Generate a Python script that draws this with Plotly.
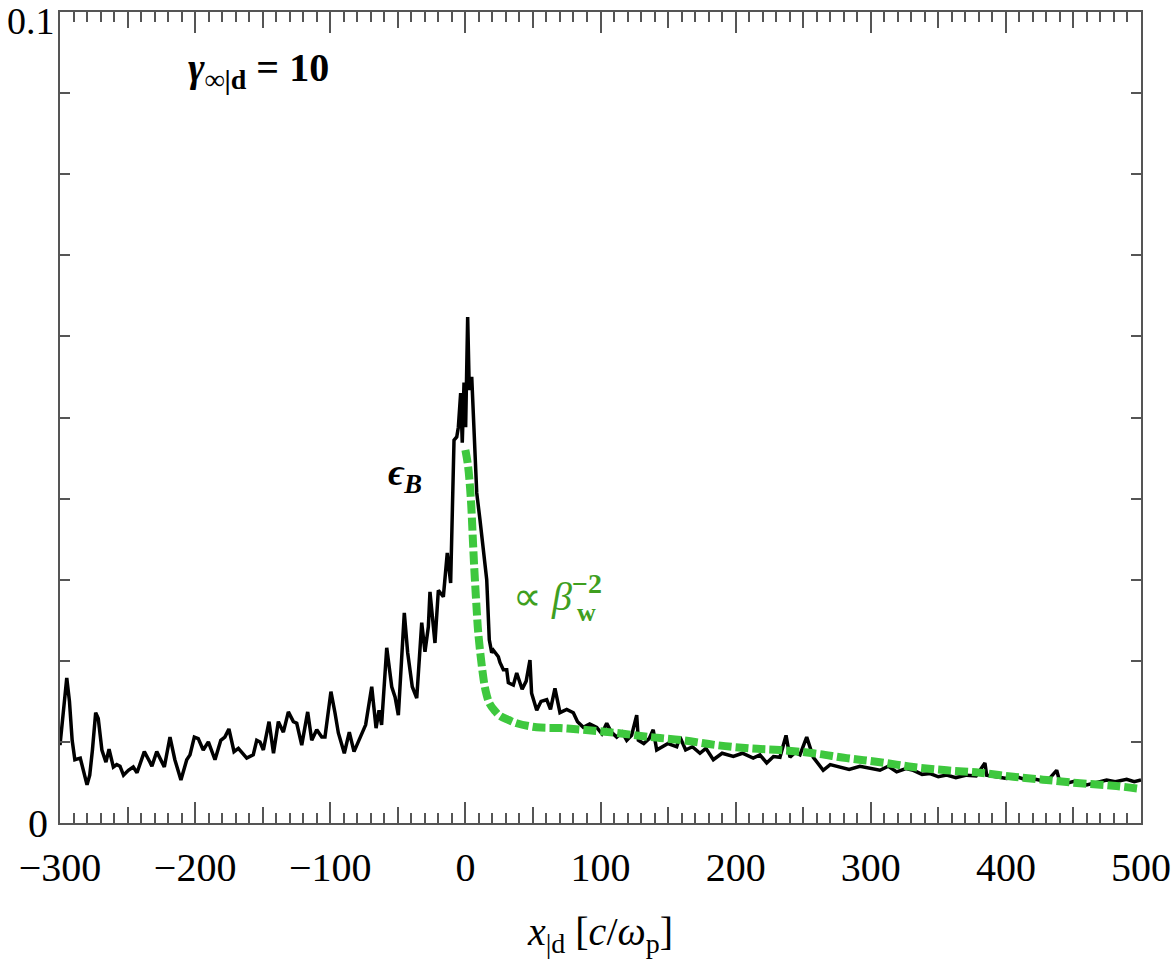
import plotly.graph_objects as go

# ---- data ----
eps_x = [-300, -297, -295, -293, -291, -289, -285, -280, -278, -276, -273.6, -271.7, -269, -266, -263.7,
         -260.5, -258, -255.6, -253, -249.4, -245.8, -243, -237.6, -233.4, -232, -228.4, -222.8, -218.6,
         -215, -210.5, -206.2, -203.8, -200.6, -197.7, -194, -190.2, -187.7, -185.3, -181, -178, -175,
         -171.2, -168, -164.4, -161.8, -157, -154.4, -152, -149.5, -145.3, -142, -138.4, -134.7, -131,
         -127.3, -124.8, -121.1, -116.7, -113.7, -110, -106.3, -103.9, -99.5, -96.5, -94, -89.6, -85.9,
         -82.4, -78, -73.8, -69.3, -66.1, -63.9, -62, -58.2, -54.5, -52, -49.6, -45.2, -42.7, -39.3, -36,
         -32.3, -29.9, -27.4, -26.2, -22.5, -20, -16.3, -13.4, -10.9, -8.4, -6.4, -5.2, -3.5, -2.3, -1,
         0.2, 1.7, 2.9, 4.7, 6.4, 8.4, 10.8, 13.3, 15.8, 17.7, 19.5, 20.7, 24.4, 25.6, 28.1, 30.6, 31.8,
         35.5, 38, 42, 45, 47.8, 49, 52.8, 56, 60.2, 63, 66.3, 70, 75, 79.9, 83, 87.3, 92, 97.2, 101,
         104.6, 108, 112, 116, 119.4, 123, 126.8, 128, 132, 136, 139, 141.6, 144, 150, 156.4, 158.8, 163,
         168, 173.6, 178, 183.5, 190, 198.3, 205, 213, 218, 223, 228, 232.8, 237.3, 240.2, 244, 247.6,
         252.6, 257.5, 261, 264.8, 270, 277.2, 284, 292, 299, 306.8, 313, 319.2, 326, 331.5, 338, 343.9,
         350, 356.2, 363, 371, 378, 384.5, 385.8, 392, 400.6, 408, 415.4, 422, 430.2, 437.6, 440, 445,
         452, 459.8, 467, 474.6, 481, 489.4, 495, 500]
eps_y = [0.0096, 0.0140, 0.0179, 0.0150, 0.0102, 0.0078, 0.0080, 0.0047, 0.0059, 0.0090, 0.0136, 0.0129,
         0.0090, 0.0075, 0.0091, 0.0069, 0.0072, 0.0070, 0.0059, 0.0065, 0.0069, 0.0062, 0.0088, 0.0075,
         0.0070, 0.0088, 0.0069, 0.0106, 0.0078, 0.0053, 0.0078, 0.0084, 0.0106, 0.0104, 0.0090, 0.0100,
         0.0090, 0.0078, 0.0102, 0.0106, 0.0116, 0.0088, 0.0092, 0.0084, 0.0080, 0.0084, 0.0102, 0.0100,
         0.0090, 0.0125, 0.0086, 0.0125, 0.0112, 0.0137, 0.0125, 0.0123, 0.0096, 0.0137, 0.0102, 0.0115,
         0.0106, 0.0106, 0.0162, 0.0136, 0.0111, 0.0086, 0.0112, 0.0088, 0.0105, 0.0121, 0.0168, 0.0117,
         0.0139, 0.0121, 0.0216, 0.0168, 0.0155, 0.0133, 0.0259, 0.0210, 0.0168, 0.0154, 0.0247, 0.0211,
         0.0242, 0.0285, 0.0222, 0.0287, 0.0279, 0.0333, 0.0296, 0.0472, 0.0476, 0.0488, 0.0530, 0.0469,
         0.0543, 0.0488, 0.0624, 0.0534, 0.0550, 0.0472, 0.0407, 0.0374, 0.0333, 0.0300, 0.0226, 0.0210,
         0.0213, 0.0205, 0.0198, 0.0189, 0.0189, 0.0173, 0.0170, 0.0185, 0.0165, 0.0175, 0.0201, 0.0160,
         0.0139, 0.0150, 0.0152, 0.0140, 0.0166, 0.0136, 0.0140, 0.0136, 0.0125, 0.0118, 0.0122, 0.0118,
         0.0110, 0.0123, 0.0112, 0.0106, 0.0112, 0.0102, 0.0108, 0.0133, 0.0102, 0.0098, 0.0104, 0.0115,
         0.0090, 0.0092, 0.0098, 0.0094, 0.0106, 0.0090, 0.0094, 0.0086, 0.0092, 0.0078, 0.0086, 0.0082,
         0.0086, 0.0080, 0.0084, 0.0074, 0.0082, 0.0081, 0.0108, 0.0081, 0.0087, 0.0084, 0.0106, 0.0081,
         0.0074, 0.0065, 0.0072, 0.0069, 0.0066, 0.0070, 0.0068, 0.0065, 0.0070, 0.0063, 0.0067, 0.0065,
         0.0060, 0.0061, 0.0057, 0.0059, 0.0056, 0.0059, 0.0058, 0.0074, 0.0059, 0.0057, 0.0055, 0.0057,
         0.0053, 0.0054, 0.0051, 0.0065, 0.0050, 0.0049, 0.0052, 0.0047, 0.0050, 0.0053, 0.0051, 0.0054,
         0.0051, 0.0053]

fit_x = [0, 2, 4.1, 5.3, 6.4, 8.4, 9.5, 12.6, 15, 18, 22, 25.6, 32, 38, 52.8, 70, 87, 112, 136.6, 161,
         186, 210.6, 232.8, 257.5, 282.2, 306.8, 331.5, 356.2, 380.8, 405.5, 430.2, 454.9, 479.5, 500]
fit_y = [0.0460, 0.0440, 0.0398, 0.0358, 0.0320, 0.0262, 0.0235, 0.0188, 0.0163, 0.0147, 0.0138, 0.0132,
         0.0127, 0.0123, 0.0118, 0.0117, 0.0115, 0.0111, 0.0106, 0.0102, 0.0096, 0.0092, 0.0090, 0.0086,
         0.0080, 0.0075, 0.0069, 0.0065, 0.0062, 0.0057, 0.0053, 0.0049, 0.0046, 0.0042]

x_major = [-300, -200, -100, 0, 100, 200, 300, 400, 500]
x_major_text = ["\u2212300", "\u2212200", "\u2212100", "0", "100", "200", "300", "400", "500"]
x_mid = [-250, -150, -50, 50, 150, 250, 350, 450]
y_label_vals = [0]
y_label_text = ["0"]
y_top = 0.1
y_top_label = "0.1"

FONT = "Liberation Serif"
AX = "#555555"
GREEN_LINE = "#3ec83e"
GREEN_TEXT = "#3f9f1f"

fig = go.Figure()
fig.add_trace(go.Scatter(x=eps_x, y=eps_y, mode="lines",
                         line=dict(color="black", width=3.5), showlegend=False))
fig.add_trace(go.Scatter(x=fit_x, y=fit_y, mode="lines", line_shape="spline",
                         line=dict(color=GREEN_LINE, width=8, dash="13px,4px"), showlegend=False))
# invisible trace for the 50-step tick overlay axis
fig.add_trace(go.Scatter(x=[x_mid[0]], y=[0], xaxis="x2", mode="markers",
                         marker=dict(opacity=0), showlegend=False, hoverinfo="skip"))

fig.update_layout(
    width=1173, height=965,
    margin=dict(l=60, r=32, t=12, b=142),
    paper_bgcolor="white", plot_bgcolor="white",
    font=dict(family=FONT, size=40, color="black"),
    xaxis=dict(range=[-300, 500], tickmode="array", tickvals=x_major, ticktext=x_major_text,
               ticks="inside", ticklen=21, tickwidth=1.5, tickcolor=AX,
               minor=dict(dtick=10, tick0=0, ticks="inside", ticklen=10, tickwidth=1.5, tickcolor=AX),
               showline=True, linecolor=AX, linewidth=2, mirror="ticks",
               showgrid=False, zeroline=False, ticklabelstandoff=8,
               tickfont=dict(size=40, family=FONT),
               title=dict(text="<i>x</i><sub>|d</sub> [<i>c</i>/<i>ω</i><sub>p</sub>]",
                          font=dict(size=40, family=FONT), standoff=28),
               automargin=False),
    xaxis2=dict(range=[-300, 500], overlaying="x", anchor="y", side="bottom",
                tickmode="array", tickvals=x_mid, ticks="inside", ticklen=16, tickwidth=1.5,
                tickcolor=AX, showticklabels=False, showline=False, showgrid=False,
                zeroline=False, mirror="ticks", automargin=False),
    yaxis=dict(range=[0, y_top], tickmode="array", tickvals=y_label_vals, ticktext=y_label_text,
               ticks="inside", ticklen=10, tickwidth=1.5, tickcolor=AX,
               minor=dict(dtick=0.01, tick0=0, ticks="inside", ticklen=10, tickwidth=1.5, tickcolor=AX),
               showline=True, linecolor=AX, linewidth=2, mirror="ticks",
               showgrid=False, zeroline=False, tickfont=dict(size=40, family=FONT),
               ticklabelstandoff=2, automargin=False),
)

# top y label, nudged down so it stays inside the page like in the reference
fig.add_annotation(x=0, xref="paper", y=y_top, yref="y", xanchor="right", yanchor="middle",
                   xshift=-3, yshift=-9, showarrow=False, text=y_top_label,
                   font=dict(size=38, family=FONT))
fig.add_annotation(x=-153, y=0.0928, xref="x", yref="y", showarrow=False,
                   text="<b><i>γ</i><sub>∞|d</sub> = 10</b>", font=dict(size=40, family=FONT))
fig.add_annotation(x=-44.5, y=0.0429, xref="x", yref="y", showarrow=False,
                   text="<b><i>ϵ</i><sub><i>B</i></sub></b>", font=dict(size=38, family=FONT))
fig.add_annotation(x=68, y=0.0283, xref="x", yref="y", showarrow=False,
                   text="∝ <i>β</i><sup><b>−2</b></sup>", font=dict(size=40, family=FONT, color=GREEN_TEXT))
fig.add_annotation(x=90, y=0.0260, xref="x", yref="y", showarrow=False,
                   text="<b>w</b>", font=dict(size=26, family=FONT, color=GREEN_TEXT))

fig.write_html("out.html")
